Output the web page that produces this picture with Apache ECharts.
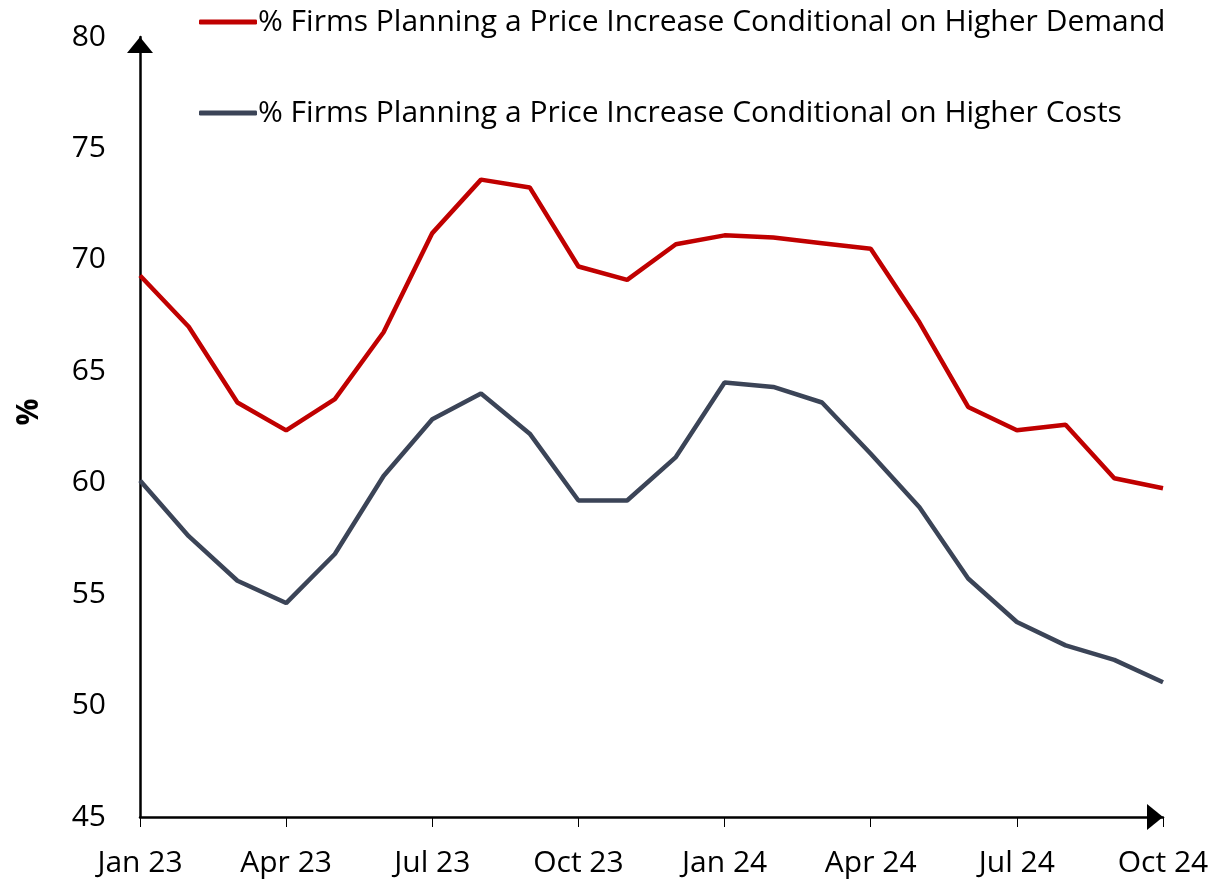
<!DOCTYPE html>
<html>
<head>
<meta charset="utf-8">
<script src="https://cdn.jsdelivr.net/npm/echarts@6/dist/echarts.min.js"></script>
<style>
  html, body { margin: 0; padding: 0; background: #fff; }
  #chart { width: 1213px; height: 885px; }
</style>
</head>
<body>
<div id="chart"></div>
<script>
var months = ['Jan 23', 'Feb 23', 'Mar 23', 'Apr 23', 'May 23', 'Jun 23', 'Jul 23', 'Aug 23', 'Sep 23',
  'Oct 23', 'Nov 23', 'Dec 23', 'Jan 24', 'Feb 24', 'Mar 24', 'Apr 24', 'May 24', 'Jun 24',
  'Jul 24', 'Aug 24', 'Sep 24', 'Oct 24'];

var demandName = '% Firms Planning a Price Increase Conditional on Higher Demand';
var costsName = '% Firms Planning a Price Increase Conditional on Higher Costs';

var demandVals = [69.3, 67.0, 63.6, 62.35, 63.75, 66.75, 71.2, 73.6, 73.25, 69.7, 69.1, 70.7,
  71.1, 71.0, 70.75, 70.5, 67.2, 63.4, 62.35, 62.6, 60.2, 59.75];
var costsVals = [60.1, 57.6, 55.6, 54.6, 56.8, 60.3, 62.85, 64.0, 62.2, 59.2, 59.2, 61.15,
  64.5, 64.3, 63.6, 61.3, 58.9, 55.7, 53.75, 52.7, 52.05, 51.05];

var yTicks = [45, 50, 55, 60, 65, 70, 75, 80];

var font = 'Open Sans';

var dom = document.getElementById('chart');
var myChart = echarts.init(dom, null, { renderer: 'canvas' });

var option = {
  animation: false,
  textStyle: { fontFamily: font },
  grid: { left: 140, right: 50, top: 37, bottom: 68, containLabel: false },
  legend: {
    orient: 'vertical',
    left: 194,
    top: 2,
    itemGap: 61,
    itemWidth: 58,
    itemHeight: 5,
    icon: 'roundRect',
    textStyle: { fontSize: 30, color: '#000', fontFamily: font, padding: [0, 0, 0, -4] },
    data: [demandName, costsName]
  },
  xAxis: {
    type: 'category',
    data: months,
    boundaryGap: false,
    axisLine: {
      lineStyle: { color: '#000', width: 2.5 },
      symbol: ['none', 'triangle'],
      symbolSize: [26, 16],
      symbolOffset: [0, -8]
    },
    axisTick: { show: true, interval: 2, length: 10, lineStyle: { color: '#000', width: 1 } },
    axisLabel: { interval: 2, fontSize: 30, color: '#000', margin: 31, fontFamily: font },
    splitLine: { show: false }
  },
  yAxis: {
    type: 'value',
    min: yTicks[0],
    max: yTicks[yTicks.length - 1],
    interval: 5,
    name: '%',
    nameLocation: 'middle',
    nameGap: 96,
    nameRotate: 90,
    nameTextStyle: { fontSize: 30, fontWeight: 'bold', color: '#000', fontFamily: font, padding: [0, 0, 0, 30] },
    axisLine: {
      show: true,
      lineStyle: { color: '#000', width: 2.5 },
      symbol: ['none', 'triangle'],
      symbolSize: [26, 16],
      symbolOffset: [0, -8]
    },
    axisTick: { show: false },
    axisLabel: { fontSize: 30, color: '#000', margin: 34, fontFamily: font },
    splitLine: { show: false }
  },
  series: [
    {
      name: demandName,
      type: 'line',
      data: demandVals,
      symbol: 'none',
      lineStyle: { color: '#C00000', width: 4.5 },
      itemStyle: { color: '#C00000' }
    },
    {
      name: costsName,
      type: 'line',
      data: costsVals,
      symbol: 'none',
      lineStyle: { color: '#3B4457', width: 4.5 },
      itemStyle: { color: '#3B4457' }
    }
  ]
};

myChart.setOption(option);
window.addEventListener('resize', myChart.resize);
</script>
</body>
</html>
